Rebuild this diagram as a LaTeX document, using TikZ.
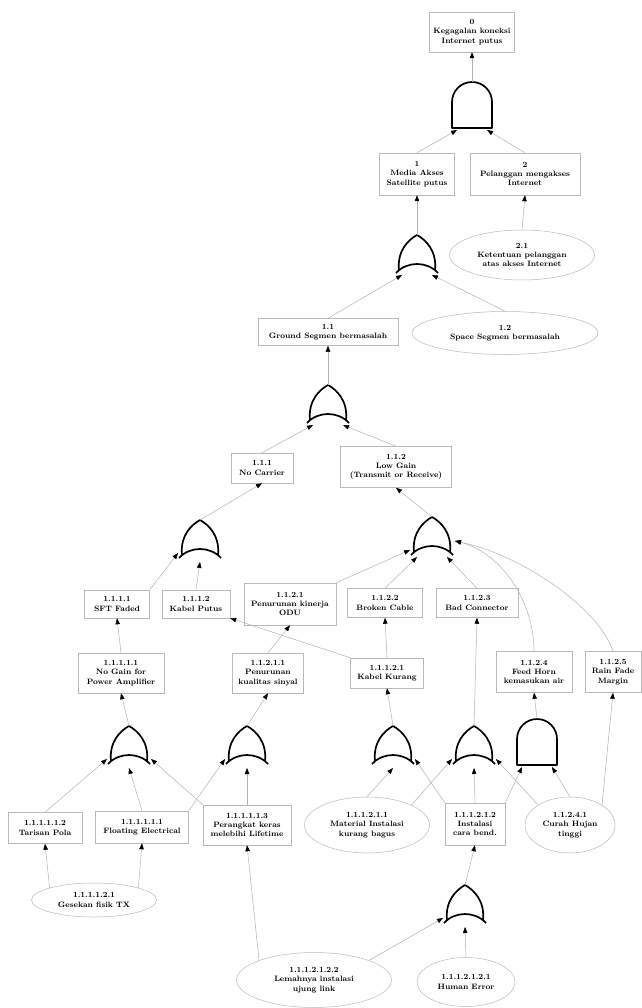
\documentclass[tikz,border=0pt]{standalone}
\usepackage{tikz}
\usetikzlibrary{arrows.meta, shapes.geometric}

\tikzset{
  orgate/.pic={
    \draw[gatepen] (-18,15) .. controls (-20,-4) and (-9,-15) .. (0,-20)
      .. controls (9,-15) and (20,-4) .. (18,15);
    \draw[gatepen] (-21,18) .. controls (-10,6) and (10,6) .. (21,18);
    \coordinate (-top) at (0,-20);
    \coordinate (-inL) at (-22,13);
    \coordinate (-inl) at (-15,20);
    \coordinate (-inb) at (0,22);
    \coordinate (-inr) at (15,20);
    \coordinate (-inR) at (22,13);
    \coordinate (-inRR) at (23,4);
  },
  andgate/.pic={
    \draw[gatepen] (-20,23) -- (-20,-3) arc[start angle=180, end angle=360, radius=20]
      -- (20,23) -- cycle;
    \coordinate (-top) at (0,-23);
    \coordinate (-inl) at (-15,25);
    \coordinate (-inr) at (15,25);
  }
}

\begin{document}
\begin{tikzpicture}[x=1pt, y=-1pt,
    gatepen/.style={draw=black, line width=1.7pt, line join=round},
    evbox/.style={rectangle, draw=gray!55, line width=0.5pt, fill=white, align=center,
      inner sep=1pt, font=\fontsize{7.8}{9.3}\selectfont\bfseries},
    evell/.style={ellipse, draw=gray!55, line width=0.5pt, fill=white, align=center,
      inner sep=0pt, font=\fontsize{7.8}{9.3}\selectfont\bfseries},
    link/.style={draw=gray!60, line width=0.5pt, -{Triangle[black, length=6pt, width=4.5pt]}}]
  \useasboundingbox (0,0) rectangle (641,1008);

  % events
  \node[evbox, minimum width=85pt, minimum height=40pt] (top) at (472,32) {0\\Kegagalan koneksi\\Internet putus};
  \node[evbox, minimum width=75pt, minimum height=42pt] (ms) at (417,174) {1\\Media Akses\\Satellite putus};
  \node[evbox, minimum width=110pt, minimum height=42pt] (pl) at (525,174) {2\\Pelanggan mengakses\\Internet};
  \node[evell, minimum width=145pt, minimum height=50pt] (kp) at (522,255) {2.1\\Ketentuan pelanggan\\atas akses Internet};
  \node[evbox, minimum width=140pt, minimum height=27pt] (gs) at (328,332) {1.1\\Ground Segmen bermasalah};
  \node[evell, minimum width=186pt, minimum height=43pt] (ss) at (505,333) {1.2\\Space Segmen bermasalah};
  \node[evbox, minimum width=62pt, minimum height=30pt] (nc) at (262,468) {1.1.1\\No Carrier};
  \node[evbox, minimum width=111pt, minimum height=41pt] (lg) at (396,467) {1.1.2\\Low Gain\\(Transmit or Receive)};
  \node[evbox, minimum width=65pt, minimum height=28pt] (sf) at (117,604) {1.1.1.1\\SFT Faded};
  \node[evbox, minimum width=68pt, minimum height=28pt] (kb) at (196,604) {1.1.1.2\\Kabel Putus};
  \node[evbox, minimum width=92pt, minimum height=42pt] (od) at (290,604) {1.1.2.1\\Penurunan kinerja\\ODU};
  \node[evbox, minimum width=75pt, minimum height=29pt] (bc) at (385,603) {1.1.2.2\\Broken Cable};
  \node[evbox, minimum width=82pt, minimum height=29pt] (bd) at (477,603) {1.1.2.3\\Bad Connector};
  \node[evbox, minimum width=86pt, minimum height=40pt] (ng) at (121,673) {1.1.1.1.1\\No Gain for\\Power Amplifier};
  \node[evbox, minimum width=71pt, minimum height=40pt] (pk) at (268,673) {1.1.2.1.1\\Penurunan\\kualitas sinyal};
  \node[evbox, minimum width=73pt, minimum height=30pt] (kk) at (387,673) {1.1.1.2.1\\Kabel Kurang};
  \node[evbox, minimum width=76pt, minimum height=41pt] (fh) at (534,672) {1.1.2.4\\Feed Horn\\kemasukan air};
  \node[evbox, minimum width=56pt, minimum height=41pt] (rf) at (613,672) {1.1.2.5\\Rain Fade\\Margin};
  \node[evbox, minimum width=74pt, minimum height=31pt] (tp) at (45,828) {1.1.1.1.1.2\\Tarisan Pola};
  \node[evbox, minimum width=93pt, minimum height=32pt] (fe) at (142,827) {1.1.1.1.1.1\\Floating Electrical};
  \node[evbox, minimum width=88pt, minimum height=40pt] (pkl) at (247,825) {1.1.1.1.1.3\\Perangkat keras\\melebihi Lifetime};
  \node[evell, minimum width=125pt, minimum height=56pt] (mi) at (367,825) {1.1.1.2.1.1\\Material Instalasi\\kurang bagus};
  \node[evbox, minimum width=60pt, minimum height=42pt] (ins) at (475,824) {1.1.1.2.1.2\\Instalasi\\cara bend.};
  \node[evell, minimum width=90pt, minimum height=56pt] (ch) at (570,825) {1.1.2.4.1\\Curah Hujan\\tinggi};
  \node[evell, minimum width=125pt, minimum height=34pt] (gf) at (94,900) {1.1.1.1.2.1\\Gesekan fisik TX};
  \node[evell, minimum width=155pt, minimum height=55pt] (li) at (314,980) {1.1.1.2.1.2.2\\Lemahnya instalasi\\ujung link};
  \node[evell, minimum width=98pt, minimum height=49pt] (he) at (466,982) {1.1.1.2.1.2.1\\Human Error};

  % gates
  \pic (g0) at (472,105) {andgate};
  \pic (g1) at (417,255) {orgate};
  \pic (g2) at (328,405) {orgate};
  \pic (g3) at (200,540) {orgate};
  \pic (g4) at (432,537) {orgate};
  \pic (g5) at (129,746) {orgate};
  \pic (g6) at (247,746) {orgate};
  \pic (g7) at (393,746) {orgate};
  \pic (g8) at (474,746) {orgate};
  \pic (g9) at (537,742) {andgate};
  \pic (g10) at (465,905) {orgate};
  %\foreach \g in {0,...,10} \fill[red] (g\g-top) circle (2pt);

  \draw[link] (g0-top) -- (top.south);
  \draw[link] (ms.north) -- (g0-inl);
  \draw[link] (pl.north) -- (g0-inr);
  \draw[link] (g1-top) -- (ms.south);
  \draw[link] (kp.north) -- (pl.south);
  \draw[link] (gs.north) -- (g1-inl);
  \draw[link] (ss.north) -- (g1-inr);
  \draw[link] (g2-top) -- (gs.south);
  \draw[link] (nc.north) -- (g2-inl);
  \draw[link] (lg.north) -- (g2-inr);
  \draw[link] (g3-top) -- (nc.south);
  \draw[link] (g4-top) -- (lg.south);
  \draw[link] (sf.north east) -- (g3-inL);
  \draw[link] (kb.north) -- (g3-inb);
  \draw[link] (od.north east) -- (g4-inL);
  \draw[link] (bc.north) -- (g4-inl);
  \draw[link] (bd.north) -- (g4-inr);
  \draw[link] (fh.north) .. controls (534,600) and (500,552) .. (g4-inRR);
  \draw[link] (rf.north) .. controls (600,610) and (525,556) .. (g4-inRR);
  \draw[link] (ng.north) -- (sf.south);
  \draw[link] (pk.north) -- (od.south);
  \draw[link] (kk.north) -- (bc.south);
  \draw[link] (kk.north west) -- (kb.south east);
  \draw[link] (g5-top) -- (ng.south);
  \draw[link] (g6-top) -- (pk.south);
  \draw[link] (g7-top) -- (kk.south);
  \draw[link] (g8-top) -- (bd.south);
  \draw[link] (g9-top) -- (fh.south);
  \draw[link] (ch.north east) -- (rf.south);
  \draw[link] (tp.north) -- (g5-inL);
  \draw[link] (fe.north) -- (g5-inb);
  \draw[link] (pkl.north west) -- (g5-inR);
  \draw[link] (fe.north east) -- (g6-inL);
  \draw[link] (pkl.north) -- (g6-inb);
  \draw[link] (mi.north) -- (g7-inb);
  \draw[link] (ins.north west) -- (g7-inR);
  \draw[link] (mi.north east) -- (g8-inL);
  \draw[link] (ins.north) -- (g8-inb);
  \draw[link] (ch.north west) -- (g8-inR);
  \draw[link] (ins.north east) -- (g9-inl);
  \draw[link] (ch.north) -- (g9-inr);
  \draw[link] (g10-top) -- (ins.south);
  \draw[link] (li.north east) -- (g10-inL);
  \draw[link] (he.north) -- (g10-inb);
  \draw[link] (gf.north west) -- (tp.south);
  \draw[link] (gf.north east) -- (fe.south);
  \draw[link] (li.north west) -- (pkl.south);
\end{tikzpicture}
\end{document}
